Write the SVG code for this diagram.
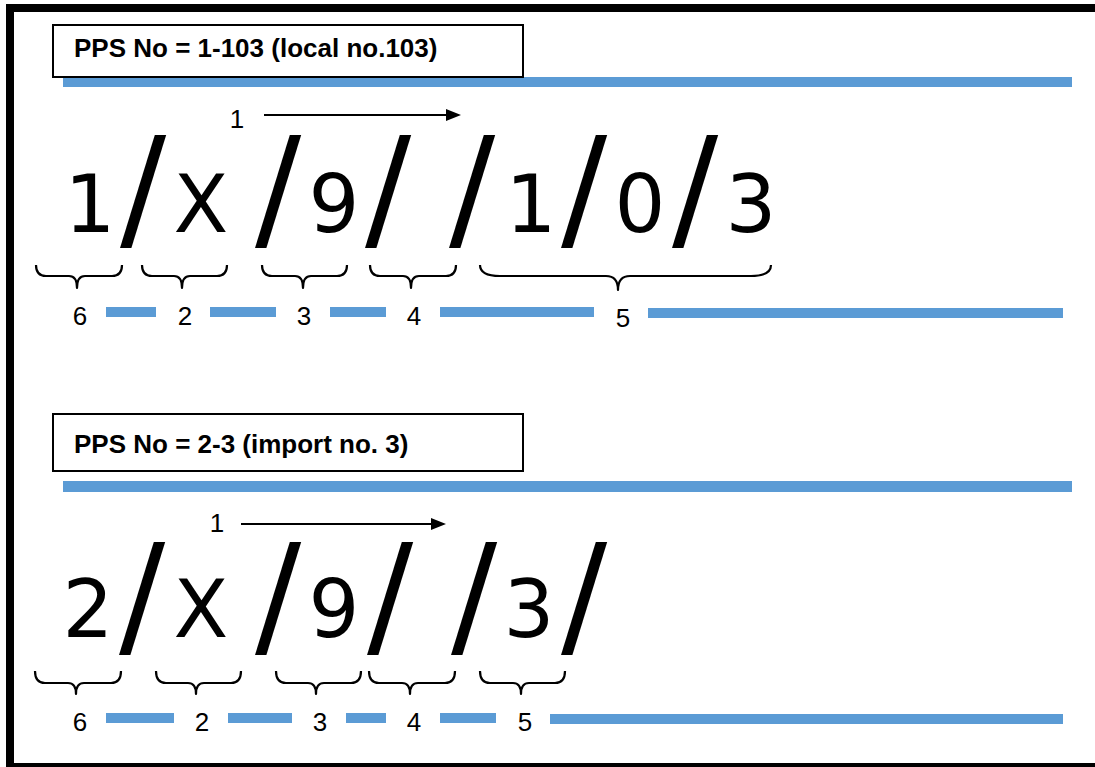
<svg xmlns="http://www.w3.org/2000/svg" width="1095" height="767" viewBox="0 0 1095 767">
<style>
.frame{fill:#fff;stroke:#000;stroke-width:8}
.box{fill:#fff;stroke:#000;stroke-width:2}
.blue{fill:#5B9BD5}
.title{font-family:"Liberation Sans",Arial,sans-serif;font-weight:bold;font-size:26px;fill:#000}
.lbl{font-family:"Liberation Sans",Arial,sans-serif;font-size:26px;fill:#000;text-anchor:middle}
.big{font-family:"DejaVu Sans",sans-serif;font-size:80px;fill:#000;text-anchor:middle}
.sl{font-family:"DejaVu Sans",sans-serif;font-weight:normal;font-size:137px;fill:#000;text-anchor:middle}
.brace{fill:none;stroke:#000;stroke-width:2.2;stroke-linejoin:round}
.arr{stroke:#000;stroke-width:2;fill:none}
</style>
<defs>
<marker id="ah" viewBox="0 0 15 12" refX="0" refY="6" markerWidth="15" markerHeight="12" markerUnits="userSpaceOnUse" orient="auto">
<path d="M0,0 L15,6 L0,12 z" fill="#000"/>
</marker>
</defs>
<rect class="frame" x="10" y="8" width="1200" height="759"/>

<g id="section1">
<rect class="blue" x="63" y="77" width="1009" height="10"/>
<g id="title1">
<rect class="box" x="53" y="25" width="470" height="52"/>
<text class="title" x="74" y="57">PPS No = 1-103 (local no.103)</text>
</g>
<g id="code1">
<text class="big" x="90" y="232">1</text>
<text class="big" x="201" y="232">X</text>
<text class="big" x="334" y="232">9</text>
<text class="big" x="531" y="232">1</text>
<text class="big" x="640" y="232">0</text>
<text class="big" x="751" y="232">3</text>
<text class="sl" x="143" y="235">/</text>
<text class="sl" x="278" y="235">/</text>
<text class="sl" x="388" y="235">/</text>
<text class="sl" x="472" y="235">/</text>
<text class="sl" x="584" y="235">/</text>
<text class="sl" x="695" y="235">/</text>
</g>
<g id="braces1">
<path class="brace" d="M36,265 Q36,276 46,276 L69,276 Q77,276 77,288 Q77,276 85,276 L112,276 Q122,276 122,265"/>
<path class="brace" d="M142,265 Q142,276 152,276 L174,276 Q182,276 182,288 Q182,276 190,276 L217,276 Q227,276 227,265"/>
<path class="brace" d="M262,265 Q262,276 272,276 L295,276 Q303,276 303,288 Q303,276 311,276 L337,276 Q347,276 347,265"/>
<path class="brace" d="M370,265 Q370,276 380,276 L403,276 Q411,276 411,288 Q411,276 419,276 L446,276 Q456,276 456,265"/>
<path class="brace" d="M480,265 Q480,276 500,276 L606,276 Q618,276 618,290 Q618,276 630,276 L751,276 Q771,276 771,265"/>
</g>
<g id="labels1">
<rect class="blue" x="106" y="307" width="50" height="10"/>
<rect class="blue" x="210" y="307" width="66" height="10"/>
<rect class="blue" x="330" y="307" width="56" height="10"/>
<rect class="blue" x="440" y="307" width="154" height="10"/>
<rect class="blue" x="648" y="308" width="415" height="10"/>
<text class="lbl" x="80" y="325">6</text>
<text class="lbl" x="185" y="325">2</text>
<text class="lbl" x="304" y="325">3</text>
<text class="lbl" x="414" y="325">4</text>
<text class="lbl" x="623" y="327">5</text>
</g>
</g>

<g id="section2">
<rect class="blue" x="63" y="481" width="1009" height="11"/>
<g id="title2">
<rect class="box" x="53" y="414" width="470" height="57"/>
<text class="title" x="74" y="453">PPS No = 2-3 (import no. 3)</text>
</g>
<g id="code2">
<text class="big" x="88" y="637">2</text>
<text class="big" x="201" y="637">X</text>
<text class="big" x="334" y="637">9</text>
<text class="big" x="529" y="637">3</text>
<text class="sl" x="142" y="642">/</text>
<text class="sl" x="278" y="642">/</text>
<text class="sl" x="390" y="642">/</text>
<text class="sl" x="474" y="642">/</text>
<text class="sl" x="584" y="642">/</text>
</g>
<g id="braces2">
<path class="brace" d="M35,671 Q35,683 45,683 L68,683 Q76,683 76,694 Q76,683 84,683 L111,683 Q121,683 121,671"/>
<path class="brace" d="M156,671 Q156,683 166,683 L188,683 Q196,683 196,694 Q196,683 204,683 L231,683 Q241,683 241,671"/>
<path class="brace" d="M276,671 Q276,683 286,683 L308,683 Q316,683 316,694 Q316,683 324,683 L351,683 Q361,683 361,671"/>
<path class="brace" d="M369,671 Q369,683 379,683 L402,683 Q410,683 410,694 Q410,683 418,683 L445,683 Q455,683 455,671"/>
<path class="brace" d="M480,671 Q480,683 490,683 L513,683 Q521,683 521,694 Q521,683 529,683 L555,683 Q565,683 565,671"/>
</g>
<g id="labels2">
<rect class="blue" x="106" y="713" width="68" height="10"/>
<rect class="blue" x="228" y="713" width="64" height="10"/>
<rect class="blue" x="346" y="713" width="40" height="10"/>
<rect class="blue" x="440" y="713" width="56" height="10"/>
<rect class="blue" x="550" y="714" width="513" height="10"/>
<text class="lbl" x="80" y="731">6</text>
<text class="lbl" x="202" y="731">2</text>
<text class="lbl" x="320" y="731">3</text>
<text class="lbl" x="414" y="731">4</text>
<text class="lbl" x="525" y="731">5</text>
</g>
</g>

<g id="connectors">
<text class="lbl" x="237" y="128">1</text>
<line class="arr" x1="264" y1="115" x2="446" y2="115" marker-end="url(#ah)"/>
<text class="lbl" x="217" y="532">1</text>
<line class="arr" x1="241" y1="524" x2="431" y2="524" marker-end="url(#ah)"/>
</g>
</svg>
